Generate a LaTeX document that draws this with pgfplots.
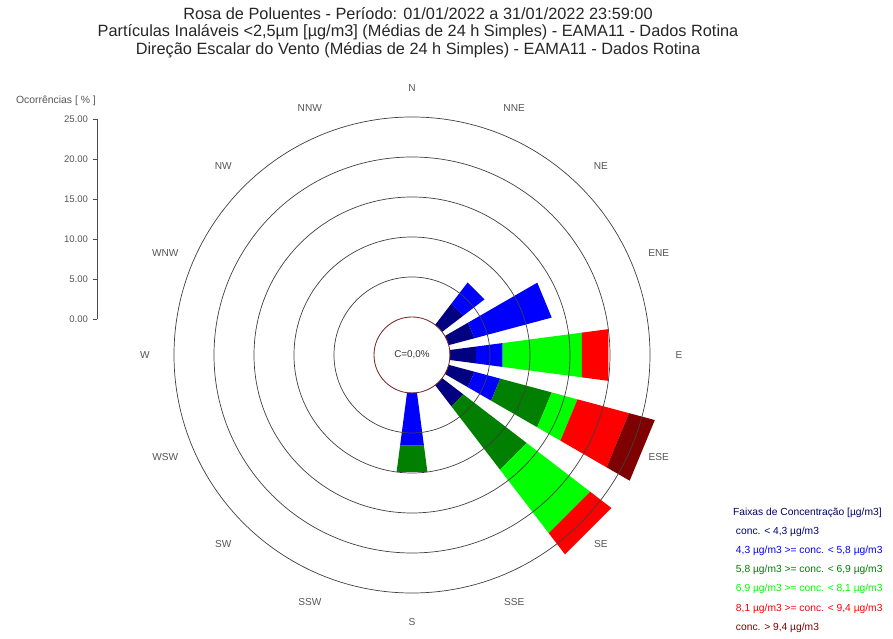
\documentclass[border=0pt]{standalone}
\usepackage{fontspec}
\setmainfont{Liberation Sans}
\usepackage{pgfplots}
\pgfplotsset{compat=1.18}
\usepgfplotslibrary{polar}
\definecolor{cl1}{HTML}{000080}
\definecolor{cl2}{HTML}{0000FF}
\definecolor{cl3}{HTML}{007F00}
\definecolor{cl4}{HTML}{00FF00}
\definecolor{cl5}{HTML}{FF0000}
\definecolor{cl6}{HTML}{7F0000}
\definecolor{calm}{HTML}{7A2A2A}
\definecolor{lbl}{HTML}{555555}
% one wedge piece: angle from, angle to, % from, % to, colour
\newcommand\seg[5]{\addplot[fill=#5,draw=none,forget plot] coordinates {(#1,#3) (#2,#3) (#2,#4) (#1,#4)} -- cycle;}
\begin{document}
\begin{tikzpicture}
\useasboundingbox (0,0) rectangle (22.325cm,15.975cm);
\node[anchor=north, align=center, font=\fontsize{11.6}{12.4}\selectfont, text=black!85] at (10.45cm,15.92cm)
  {Rosa de Poluentes - Período: 01/01/2022 a 31/01/2022 23:59:00\\
   Partículas Inaláveis <2,5µm [µg/m3] (Médias de 24 h Simples) - EAMA11 - Dados Rotina\\
   Direção Escalar do Vento (Médias de 24 h Simples) - EAMA11 - Dados Rotina};

\begin{axis}[
  at={(2.425cm,8cm)}, anchor=south west,
  scale only axis, width=1pt, height=5cm,
  xmin=0, xmax=1, ymin=0, ymax=25,
  axis x line=none, axis y line=left,
  axis line style={-, black!70},
  ytick={0,5,...,25}, tick align=outside, major tick length=0.1cm,
  tick style={black!70},
  yticklabel style={font=\fontsize{6.8}{8}\selectfont, text=lbl,
    /pgf/number format/.cd, fixed, fixed zerofill, precision=2, assume math mode=true},
]
\end{axis}
\node[font=\fontsize{7.4}{8}\selectfont, text=lbl] at (1.4cm,13.45cm) {Ocorrências [ \% ]};

\begin{polaraxis}[
  at={(10.3cm,7.1cm)}, anchor=center,
  scale only axis, width=13.35cm, height=13.35cm,
  ymin=0, ymax=33.375,
  y filter/.expression={y+4.75},
  xtick=\empty,
  ytick={9.75,14.75,19.75,24.75,29.75}, yticklabels={},
  ymajorgrids, grid style={black!75, line width=0.5pt},
  extra y ticks={4.75}, extra y tick labels={},
  extra y tick style={grid style={calm, line width=0.6pt}},
  major tick length=0,
  axis line style={draw=none},
  axis on top, clip=false,
  legend style={at={(1.0955,0.2185)}, anchor=north west, draw=none, fill=none,
    font=\fontsize{7.3}{8}\selectfont, row sep=2.75pt, inner sep=0pt},
  legend cell align=left,
]
% NE
\seg{37.5}{52.5}{0}{3.33}{cl1}
\seg{37.5}{52.5}{3.33}{6.67}{cl2}
% ENE
\seg{15}{30}{0}{3.33}{cl1}
\seg{15}{30}{3.33}{13.33}{cl2}
% E
\seg{-7.5}{7.5}{0}{3.33}{cl1}
\seg{-7.5}{7.5}{3.33}{6.67}{cl2}
\seg{-7.5}{7.5}{6.67}{16.67}{cl4}
\seg{-7.5}{7.5}{16.67}{20}{cl5}
% ESE
\seg{-30}{-15}{0}{3.33}{cl1}
\seg{-30}{-15}{3.33}{6.67}{cl2}
\seg{-30}{-15}{6.67}{13.33}{cl3}
\seg{-30}{-15}{13.33}{16.67}{cl4}
\seg{-30}{-15}{16.67}{23.33}{cl5}
\seg{-30}{-15}{23.33}{26.67}{cl6}
% SE
\seg{-52.5}{-37.5}{0}{3.33}{cl1}
\seg{-52.5}{-37.5}{3.33}{13.33}{cl3}
\seg{-52.5}{-37.5}{13.33}{23.33}{cl4}
\seg{-52.5}{-37.5}{23.33}{26.67}{cl5}
% S
\seg{-97.5}{-82.5}{0}{6.67}{cl2}
\seg{-97.5}{-82.5}{6.67}{10}{cl3}

\addlegendimage{empty legend}\addlegendentry{\textcolor{cl1!80!black}{Faixas de Concentração [µg/m3]}}
\addlegendimage{empty legend}\addlegendentry{\textcolor{cl1}{~conc. < 4,3 µg/m3}}
\addlegendimage{empty legend}\addlegendentry{\textcolor{cl2}{~4,3 µg/m3 >= conc. < 5,8 µg/m3}}
\addlegendimage{empty legend}\addlegendentry{\textcolor{cl3}{~5,8 µg/m3 >= conc. < 6,9 µg/m3}}
\addlegendimage{empty legend}\addlegendentry{\textcolor{cl4}{~6,9 µg/m3 >= conc. < 8,1 µg/m3}}
\addlegendimage{empty legend}\addlegendentry{\textcolor{cl5}{~8,1 µg/m3 >= conc. < 9,4 µg/m3}}
\addlegendimage{empty legend}\addlegendentry{\textcolor{cl6}{~conc. > 9,4 µg/m3}}

\node[font=\fontsize{7}{8}\selectfont, text=black!80] at (axis cs:0,0) {C=0,0\%};
\pgfplotsforeachungrouped \a/\t in {90/N, 67.5/NNE, 45/NE, 22.5/ENE, 0/E, -22.5/ESE, -45/SE, -67.5/SSE,
  -90/S, -112.5/SSW, -135/SW, -157.5/WSW, 180/W, 157.5/WNW, 135/NW, 112.5/NNW}
  {\edef\tmp{\noexpand\node[font=\noexpand\fontsize{7.2}{8}\noexpand\selectfont, text=lbl] at (axis cs:\a,33.375) {\t};}\tmp}
\end{polaraxis}
\end{tikzpicture}
\end{document}
